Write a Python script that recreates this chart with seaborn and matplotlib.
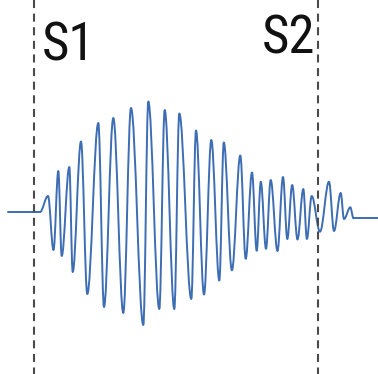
import matplotlib
matplotlib.use("Agg")
import numpy as np
import pandas as pd
import seaborn as sns
import matplotlib.pyplot as plt
from matplotlib.path import Path
from matplotlib.patches import PathPatch
from matplotlib import font_manager

# ---- data (time in ms from S1 onset, amplitude in arbitrary units) ----
# successive extrema of the oscillation
wave_t = [6, 14, 19.5, 24.3, 27.7, 35.3, 38.7, 47, 53.3, 64.3, 70, 79.3, 89.3,
          97, 109.3, 114.3, 125.3, 130.7, 140.3, 145.3, 157.3, 162, 170, 177.3,
          185.3, 189.8, 197.9, 206.3, 211.7, 218, 222.7, 226.8, 232, 236.7,
          243.5, 249, 253.3, 258.2, 263.5, 269.3, 272.9, 277.7, 286, 295, 300,
          306.7, 310, 316.3, 319.5]
wave_amp = [0, 0.16, -0.38, 0.41, -0.44, 0.45, -0.60, 0.705, -0.82, 0.89,
            -0.95, 0.94, -1.01, 1.04, -1.13, 1.105, -0.97, 1.02, -0.97, 0.985,
            -0.87, 0.815, -0.825, 0.72, -0.685, 0.695, -0.583, 0.565, -0.468,
            0.395, -0.387, 0.303, -0.368, 0.32, -0.39, 0.35, -0.27, 0.27,
            -0.275, 0.23, -0.27, 0.16, -0.197, 0.303, -0.19, 0.19, -0.07,
            0.047, -0.063]
lead_t = [-26, 6]
lead_amp = [0, 0]
tail_t = [319.5, 344]
tail_amp = [-0.063, -0.063]
marker_t = [0, 284]
marker_labels = ["S1", "S2"]
label_t = [7.5, 228]
label_amp = [1.52, 1.59]

LINE = "#3d6db3"

sns.set_style("white")
plt.rcParams["lines.scale_dashes"] = False

fig = plt.figure(figsize=(3.78, 3.74), dpi=100)
ax = fig.add_axes([0, 0, 1, 1])
ax.set_xlim(-34, 344)
ax.set_ylim(-1.62, 2.12)
ax.set_axis_off()

# flat segments
sns.lineplot(x=lead_t, y=lead_amp, ax=ax, color=LINE, lw=1.4)
sns.lineplot(x=tail_t, y=tail_amp, ax=ax, color=LINE, lw=1.4)

# oscillation drawn as smooth curve through the extrema
c = 0.364
verts = [(wave_t[0], wave_amp[0])]
codes = [Path.MOVETO]
for i in range(len(wave_t) - 1):
    t0, a0, t1, a1 = wave_t[i], wave_amp[i], wave_t[i + 1], wave_amp[i + 1]
    d = t1 - t0
    verts += [(t0 + c * d, a0), (t1 - c * d, a1), (t1, a1)]
    codes += [Path.CURVE4] * 3
ax.add_patch(PathPatch(Path(verts, codes), facecolor="none", edgecolor=LINE,
                       lw=1.4, capstyle="round", joinstyle="round"))

# dashed markers
for t in marker_t:
    ax.plot([t, t], [2.12, -1.62], color="#4a4a4a", lw=1.5,
            linestyle=(0, (5.8, 4.0)))

# labels (prefer a condensed face, like the reference)
names = {f.name for f in font_manager.fontManager.ttflist}
fam, size = "Open Sans", 34
for cand, sz in [("Liberation Sans Narrow", 38), ("DejaVu Sans Condensed", 35),
                 ("Roboto Condensed", 38), ("Open Sans Condensed", 38),
                 ("Open Sans", 34)]:
    if cand in names:
        fam, size = cand, sz
        break
for t, a, s in zip(label_t, label_amp, marker_labels):
    ax.text(t, a, s, fontsize=size, family=fam, color="#111111",
            ha="left", va="baseline")

fig.savefig("out.png", dpi=100)
